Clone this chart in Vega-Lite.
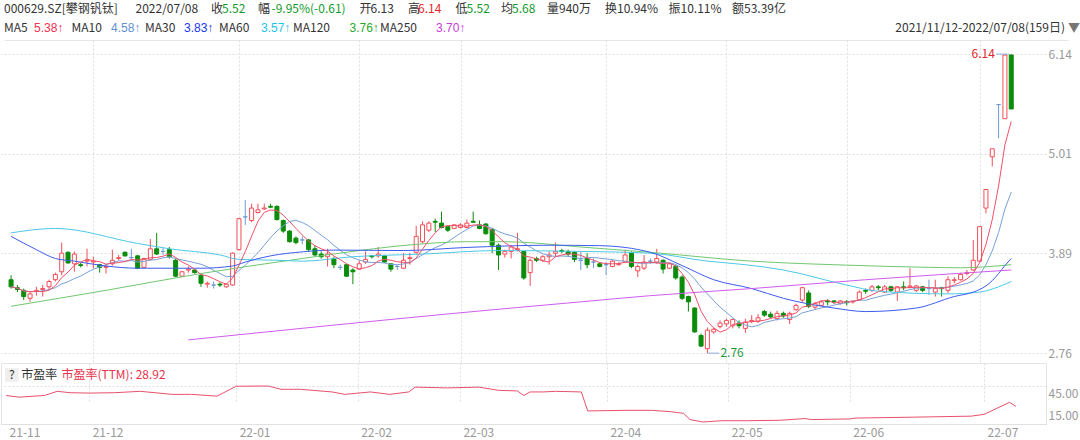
{
  "$schema": "https://vega.github.io/schema/vega-lite/v6.json",
  "background": "white",
  "padding": 0,
  "autosize": {"type": "pad"},
  "spacing": 0,
  "config": {
    "view": {"stroke": null},
    "font": "Noto Sans CJK SC",
    "axis": {"labelFont": "Noto Sans CJK SC", "labelColor": "#999999", "labelFontSize": 12, "ticks": false, "domain": false, "gridColor": "#dedede", "gridDash": [2, 2], "gridWidth": 1},
    "text": {"font": "Noto Sans CJK SC", "fontSize": 12}
  },
  "resolve": {"scale": {"x": "independent", "y": "independent", "color": "independent", "fill": "independent", "stroke": "independent"}},
  "datasets": {
    "hdr": [
      {"k": 0, "ln": "L1", "t": "000629.SZ[攀钢钒钛]", "tone": "lab"},
      {"k": 1, "ln": "L1", "t": "2022/07/08", "tone": "lab"},
      {"k": 2, "ln": "L1", "t": "收", "tone": "lab"},
      {"k": 3, "ln": "L1", "t": "5.52", "tone": "dn"},
      {"k": 4, "ln": "L1", "t": "幅", "tone": "lab"},
      {"k": 5, "ln": "L1", "t": "-9.95%(-0.61)", "tone": "dn"},
      {"k": 6, "ln": "L1", "t": "开", "tone": "lab"},
      {"k": 7, "ln": "L1", "t": "6.13", "tone": "lab"},
      {"k": 8, "ln": "L1", "t": "高", "tone": "lab"},
      {"k": 9, "ln": "L1", "t": "6.14", "tone": "up"},
      {"k": 10, "ln": "L1", "t": "低", "tone": "lab"},
      {"k": 11, "ln": "L1", "t": "5.52", "tone": "dn"},
      {"k": 12, "ln": "L1", "t": "均", "tone": "lab"},
      {"k": 13, "ln": "L1", "t": "5.68", "tone": "dn"},
      {"k": 14, "ln": "L1", "t": "量940万", "tone": "lab"},
      {"k": 15, "ln": "L1", "t": "换10.94%", "tone": "lab"},
      {"k": 16, "ln": "L1", "t": "振10.11%", "tone": "lab"},
      {"k": 17, "ln": "L1", "t": "额53.39亿", "tone": "lab"},
      {"k": 18, "ln": "L2", "t": "MA5", "tone": "lab"},
      {"k": 19, "ln": "L2", "t": "5.38↑", "tone": "ma5"},
      {"k": 20, "ln": "L2", "t": "MA10", "tone": "lab"},
      {"k": 21, "ln": "L2", "t": "4.58↑", "tone": "ma10"},
      {"k": 22, "ln": "L2", "t": "MA30", "tone": "lab"},
      {"k": 23, "ln": "L2", "t": "3.83↑", "tone": "ma30"},
      {"k": 24, "ln": "L2", "t": "MA60", "tone": "lab"},
      {"k": 25, "ln": "L2", "t": "3.57↑", "tone": "ma60"},
      {"k": 26, "ln": "L2", "t": "MA120", "tone": "lab"},
      {"k": 27, "ln": "L2", "t": "3.76↑", "tone": "ma120"},
      {"k": 28, "ln": "L2", "t": "MA250", "tone": "lab"},
      {"k": 29, "ln": "L2", "t": "3.70↑", "tone": "ma250"},
      {"k": 30, "ln": "L2", "t": "2021/11/12-2022/07/08(159日)", "tone": "lab"},
      {"k": 31, "ln": "L2", "t": "▼", "tone": "tri"}
    ],
    "k": [
      {"i":0,"o":3.59,"h":3.64,"l":3.49,"c":3.51,"d":"down"},
      {"i":1,"o":3.50,"h":3.53,"l":3.45,"c":3.48,"d":"down"},
      {"i":2,"o":3.47,"h":3.49,"l":3.36,"c":3.40,"d":"down"},
      {"i":3,"o":3.38,"h":3.45,"l":3.34,"c":3.43,"d":"up"},
      {"i":4,"o":3.46,"h":3.51,"l":3.41,"c":3.47,"d":"up"},
      {"i":5,"o":3.48,"h":3.53,"l":3.40,"c":3.49,"d":"up"},
      {"i":6,"o":3.51,"h":3.59,"l":3.47,"c":3.57,"d":"up"},
      {"i":7,"o":3.59,"h":3.67,"l":3.57,"c":3.65,"d":"up"},
      {"i":8,"o":3.68,"h":4.01,"l":3.64,"c":3.89,"d":"up"},
      {"i":9,"o":3.90,"h":3.91,"l":3.77,"c":3.78,"d":"down"},
      {"i":10,"o":3.77,"h":3.91,"l":3.68,"c":3.88,"d":"up"},
      {"i":11,"o":3.76,"h":3.78,"l":3.73,"c":3.75,"d":"down"},
      {"i":12,"o":3.80,"h":3.94,"l":3.74,"c":3.81,"d":"up"},
      {"i":13,"o":3.79,"h":3.85,"l":3.72,"c":3.80,"d":"up"},
      {"i":14,"o":3.76,"h":3.77,"l":3.67,"c":3.73,"d":"down"},
      {"i":15,"o":3.73,"h":3.76,"l":3.66,"c":3.74,"d":"up"},
      {"i":16,"o":3.77,"h":3.93,"l":3.75,"c":3.81,"d":"up"},
      {"i":17,"o":3.83,"h":3.87,"l":3.81,"c":3.84,"d":"up"},
      {"i":18,"o":3.90,"h":3.91,"l":3.85,"c":3.86,"d":"down"},
      {"i":19,"o":3.84,"h":3.94,"l":3.81,"c":3.84,"d":"flat"},
      {"i":20,"o":3.86,"h":3.87,"l":3.71,"c":3.72,"d":"down"},
      {"i":21,"o":3.73,"h":3.84,"l":3.72,"c":3.83,"d":"up"},
      {"i":22,"o":3.82,"h":4.05,"l":3.81,"c":3.94,"d":"up"},
      {"i":23,"o":3.94,"h":4.12,"l":3.87,"c":3.88,"d":"down"},
      {"i":24,"o":3.91,"h":3.96,"l":3.87,"c":3.91,"d":"flat"},
      {"i":25,"o":3.93,"h":3.96,"l":3.83,"c":3.85,"d":"down"},
      {"i":26,"o":3.81,"h":3.83,"l":3.62,"c":3.63,"d":"down"},
      {"i":27,"o":3.63,"h":3.69,"l":3.62,"c":3.68,"d":"up"},
      {"i":28,"o":3.70,"h":3.74,"l":3.67,"c":3.71,"d":"up"},
      {"i":29,"o":3.70,"h":3.71,"l":3.66,"c":3.67,"d":"down"},
      {"i":30,"o":3.64,"h":3.65,"l":3.51,"c":3.55,"d":"down"},
      {"i":31,"o":3.54,"h":3.57,"l":3.50,"c":3.55,"d":"up"},
      {"i":32,"o":3.53,"h":3.57,"l":3.49,"c":3.53,"d":"flat"},
      {"i":33,"o":3.54,"h":3.56,"l":3.51,"c":3.53,"d":"down"},
      {"i":34,"o":3.51,"h":3.55,"l":3.50,"c":3.54,"d":"up"},
      {"i":35,"o":3.53,"h":3.90,"l":3.52,"c":3.89,"d":"up"},
      {"i":36,"o":3.93,"h":4.29,"l":3.92,"c":4.28,"d":"up"},
      {"i":37,"o":4.30,"h":4.49,"l":4.21,"c":4.30,"d":"flat"},
      {"i":38,"o":4.26,"h":4.45,"l":4.24,"c":4.40,"d":"up"},
      {"i":39,"o":4.35,"h":4.45,"l":4.34,"c":4.38,"d":"up"},
      {"i":40,"o":4.39,"h":4.45,"l":4.38,"c":4.40,"d":"up"},
      {"i":41,"o":4.42,"h":4.45,"l":4.40,"c":4.41,"d":"down"},
      {"i":42,"o":4.42,"h":4.43,"l":4.26,"c":4.27,"d":"down"},
      {"i":43,"o":4.26,"h":4.27,"l":4.12,"c":4.14,"d":"down"},
      {"i":44,"o":4.14,"h":4.15,"l":4.01,"c":4.02,"d":"down"},
      {"i":45,"o":4.06,"h":4.08,"l":3.99,"c":4.01,"d":"down"},
      {"i":46,"o":4.04,"h":4.08,"l":3.99,"c":4.04,"d":"flat"},
      {"i":47,"o":4.04,"h":4.05,"l":3.91,"c":3.93,"d":"down"},
      {"i":48,"o":3.94,"h":3.98,"l":3.86,"c":3.87,"d":"down"},
      {"i":49,"o":3.88,"h":3.91,"l":3.83,"c":3.85,"d":"down"},
      {"i":50,"o":3.85,"h":3.94,"l":3.74,"c":3.88,"d":"up"},
      {"i":51,"o":3.83,"h":3.85,"l":3.72,"c":3.76,"d":"down"},
      {"i":52,"o":3.73,"h":3.76,"l":3.70,"c":3.73,"d":"flat"},
      {"i":53,"o":3.76,"h":3.77,"l":3.62,"c":3.63,"d":"down"},
      {"i":54,"o":3.70,"h":3.72,"l":3.54,"c":3.68,"d":"down"},
      {"i":55,"o":3.71,"h":3.81,"l":3.70,"c":3.77,"d":"up"},
      {"i":56,"o":3.79,"h":3.91,"l":3.77,"c":3.82,"d":"up"},
      {"i":57,"o":3.86,"h":3.87,"l":3.83,"c":3.85,"d":"down"},
      {"i":58,"o":3.86,"h":3.96,"l":3.84,"c":3.88,"d":"up"},
      {"i":59,"o":3.86,"h":3.87,"l":3.78,"c":3.79,"d":"down"},
      {"i":60,"o":3.77,"h":3.77,"l":3.68,"c":3.71,"d":"down"},
      {"i":61,"o":3.74,"h":3.76,"l":3.70,"c":3.74,"d":"flat"},
      {"i":62,"o":3.72,"h":3.89,"l":3.71,"c":3.81,"d":"up"},
      {"i":63,"o":3.83,"h":3.89,"l":3.76,"c":3.84,"d":"up"},
      {"i":64,"o":3.90,"h":4.20,"l":3.88,"c":4.08,"d":"up"},
      {"i":65,"o":4.02,"h":4.25,"l":4.00,"c":4.21,"d":"up"},
      {"i":66,"o":4.15,"h":4.25,"l":4.13,"c":4.23,"d":"up"},
      {"i":67,"o":4.25,"h":4.28,"l":4.13,"c":4.24,"d":"down"},
      {"i":68,"o":4.23,"h":4.36,"l":4.17,"c":4.18,"d":"down"},
      {"i":69,"o":4.19,"h":4.20,"l":4.13,"c":4.15,"d":"down"},
      {"i":70,"o":4.17,"h":4.22,"l":4.16,"c":4.21,"d":"up"},
      {"i":71,"o":4.18,"h":4.23,"l":4.17,"c":4.21,"d":"up"},
      {"i":72,"o":4.18,"h":4.27,"l":4.17,"c":4.23,"d":"up"},
      {"i":73,"o":4.25,"h":4.36,"l":4.23,"c":4.24,"d":"down"},
      {"i":74,"o":4.21,"h":4.26,"l":4.16,"c":4.17,"d":"down"},
      {"i":75,"o":4.22,"h":4.23,"l":4.10,"c":4.11,"d":"down"},
      {"i":76,"o":4.16,"h":4.17,"l":3.89,"c":3.98,"d":"down"},
      {"i":77,"o":3.98,"h":4.00,"l":3.70,"c":3.87,"d":"down"},
      {"i":78,"o":3.88,"h":3.93,"l":3.84,"c":3.91,"d":"up"},
      {"i":79,"o":3.91,"h":3.98,"l":3.83,"c":3.96,"d":"up"},
      {"i":80,"o":3.93,"h":4.12,"l":3.91,"c":3.94,"d":"up"},
      {"i":81,"o":3.91,"h":3.91,"l":3.59,"c":3.61,"d":"down"},
      {"i":82,"o":3.67,"h":3.83,"l":3.52,"c":3.81,"d":"up"},
      {"i":83,"o":3.83,"h":3.85,"l":3.79,"c":3.81,"d":"down"},
      {"i":84,"o":3.81,"h":3.87,"l":3.79,"c":3.85,"d":"up"},
      {"i":85,"o":3.85,"h":3.91,"l":3.76,"c":3.87,"d":"up"},
      {"i":86,"o":3.89,"h":4.01,"l":3.85,"c":3.91,"d":"up"},
      {"i":87,"o":3.92,"h":3.94,"l":3.89,"c":3.91,"d":"down"},
      {"i":88,"o":3.91,"h":3.93,"l":3.85,"c":3.88,"d":"down"},
      {"i":89,"o":3.90,"h":3.91,"l":3.79,"c":3.82,"d":"down"},
      {"i":90,"o":3.81,"h":3.91,"l":3.70,"c":3.81,"d":"flat"},
      {"i":91,"o":3.83,"h":3.89,"l":3.72,"c":3.76,"d":"down"},
      {"i":92,"o":3.79,"h":3.83,"l":3.72,"c":3.79,"d":"flat"},
      {"i":93,"o":3.77,"h":3.79,"l":3.73,"c":3.74,"d":"down"},
      {"i":94,"o":3.76,"h":3.79,"l":3.64,"c":3.76,"d":"flat"},
      {"i":95,"o":3.74,"h":3.81,"l":3.73,"c":3.80,"d":"up"},
      {"i":96,"o":3.76,"h":3.79,"l":3.75,"c":3.77,"d":"up"},
      {"i":97,"o":3.79,"h":3.93,"l":3.78,"c":3.87,"d":"up"},
      {"i":98,"o":3.89,"h":3.91,"l":3.72,"c":3.74,"d":"down"},
      {"i":99,"o":3.69,"h":3.76,"l":3.62,"c":3.74,"d":"up"},
      {"i":100,"o":3.72,"h":3.87,"l":3.70,"c":3.79,"d":"up"},
      {"i":101,"o":3.80,"h":3.83,"l":3.77,"c":3.80,"d":"flat"},
      {"i":102,"o":3.79,"h":3.94,"l":3.77,"c":3.83,"d":"up"},
      {"i":103,"o":3.81,"h":3.82,"l":3.66,"c":3.71,"d":"down"},
      {"i":104,"o":3.72,"h":3.78,"l":3.71,"c":3.77,"d":"up"},
      {"i":105,"o":3.74,"h":3.76,"l":3.59,"c":3.61,"d":"down"},
      {"i":106,"o":3.62,"h":3.64,"l":3.36,"c":3.38,"d":"down"},
      {"i":107,"o":3.40,"h":3.41,"l":3.23,"c":3.34,"d":"down"},
      {"i":108,"o":3.27,"h":3.28,"l":2.99,"c":3.00,"d":"down"},
      {"i":109,"o":2.96,"h":2.98,"l":2.83,"c":2.84,"d":"down"},
      {"i":110,"o":2.81,"h":3.05,"l":2.76,"c":3.02,"d":"up"},
      {"i":111,"o":3.00,"h":3.05,"l":2.98,"c":3.03,"d":"up"},
      {"i":112,"o":3.06,"h":3.13,"l":3.04,"c":3.10,"d":"up"},
      {"i":113,"o":3.09,"h":3.15,"l":3.06,"c":3.13,"d":"up"},
      {"i":114,"o":3.07,"h":3.15,"l":3.04,"c":3.14,"d":"up"},
      {"i":115,"o":3.10,"h":3.13,"l":3.04,"c":3.07,"d":"down"},
      {"i":116,"o":3.04,"h":3.15,"l":2.99,"c":3.11,"d":"up"},
      {"i":117,"o":3.12,"h":3.19,"l":3.10,"c":3.13,"d":"up"},
      {"i":118,"o":3.12,"h":3.20,"l":3.10,"c":3.16,"d":"up"},
      {"i":119,"o":3.23,"h":3.25,"l":3.17,"c":3.19,"d":"down"},
      {"i":120,"o":3.20,"h":3.23,"l":3.15,"c":3.17,"d":"down"},
      {"i":121,"o":3.15,"h":3.24,"l":3.13,"c":3.21,"d":"up"},
      {"i":122,"o":3.21,"h":3.23,"l":3.16,"c":3.18,"d":"down"},
      {"i":123,"o":3.14,"h":3.23,"l":3.09,"c":3.21,"d":"up"},
      {"i":124,"o":3.25,"h":3.32,"l":3.24,"c":3.30,"d":"up"},
      {"i":125,"o":3.36,"h":3.51,"l":3.34,"c":3.50,"d":"up"},
      {"i":126,"o":3.44,"h":3.47,"l":3.27,"c":3.29,"d":"down"},
      {"i":127,"o":3.28,"h":3.34,"l":3.25,"c":3.32,"d":"up"},
      {"i":128,"o":3.30,"h":3.36,"l":3.29,"c":3.34,"d":"up"},
      {"i":129,"o":3.35,"h":3.37,"l":3.30,"c":3.34,"d":"down"},
      {"i":130,"o":3.35,"h":3.36,"l":3.32,"c":3.34,"d":"down"},
      {"i":131,"o":3.32,"h":3.36,"l":3.31,"c":3.35,"d":"up"},
      {"i":132,"o":3.34,"h":3.36,"l":3.30,"c":3.33,"d":"down"},
      {"i":133,"o":3.34,"h":3.35,"l":3.32,"c":3.35,"d":"up"},
      {"i":134,"o":3.36,"h":3.47,"l":3.35,"c":3.45,"d":"up"},
      {"i":135,"o":3.47,"h":3.49,"l":3.43,"c":3.46,"d":"down"},
      {"i":136,"o":3.47,"h":3.53,"l":3.45,"c":3.51,"d":"up"},
      {"i":137,"o":3.51,"h":3.53,"l":3.47,"c":3.50,"d":"down"},
      {"i":138,"o":3.45,"h":3.53,"l":3.44,"c":3.51,"d":"up"},
      {"i":139,"o":3.51,"h":3.52,"l":3.45,"c":3.47,"d":"down"},
      {"i":140,"o":3.45,"h":3.52,"l":3.35,"c":3.51,"d":"up"},
      {"i":141,"o":3.51,"h":3.57,"l":3.47,"c":3.50,"d":"down"},
      {"i":142,"o":3.51,"h":3.72,"l":3.49,"c":3.52,"d":"up"},
      {"i":143,"o":3.47,"h":3.53,"l":3.45,"c":3.52,"d":"up"},
      {"i":144,"o":3.51,"h":3.52,"l":3.45,"c":3.47,"d":"down"},
      {"i":145,"o":3.49,"h":3.59,"l":3.42,"c":3.49,"d":"flat"},
      {"i":146,"o":3.45,"h":3.59,"l":3.40,"c":3.49,"d":"up"},
      {"i":147,"o":3.50,"h":3.51,"l":3.40,"c":3.49,"d":"down"},
      {"i":148,"o":3.47,"h":3.63,"l":3.44,"c":3.59,"d":"up"},
      {"i":149,"o":3.58,"h":3.62,"l":3.55,"c":3.59,"d":"up"},
      {"i":150,"o":3.59,"h":3.67,"l":3.58,"c":3.65,"d":"up"},
      {"i":151,"o":3.66,"h":3.70,"l":3.64,"c":3.67,"d":"up"},
      {"i":152,"o":3.70,"h":4.04,"l":3.69,"c":3.81,"d":"up"},
      {"i":153,"o":3.80,"h":4.19,"l":3.79,"c":4.19,"d":"up"},
      {"i":154,"o":4.40,"h":4.61,"l":4.34,"c":4.61,"d":"up"},
      {"i":155,"o":4.98,"h":5.07,"l":4.87,"c":5.07,"d":"up"},
      {"i":156,"o":5.57,"h":5.57,"l":5.19,"c":5.57,"d":"flat"},
      {"i":157,"o":5.41,"h":6.14,"l":5.41,"c":6.13,"d":"up"},
      {"i":158,"o":6.13,"h":6.14,"l":5.52,"c":5.52,"d":"down"}
    ],
    "ma30": [
      {"i":0,"v":4.08},{"i":4,"v":3.93},{"i":7,"v":3.83},{"i":10,"v":3.80},{"i":15,"v":3.745},{"i":20,"v":3.72},{"i":30,"v":3.72},{"i":35,"v":3.745},{"i":37,"v":3.79},{"i":41,"v":3.86},{"i":46,"v":3.905},{"i":51,"v":3.925},{"i":62,"v":3.92},{"i":72,"v":3.955},{"i":85,"v":3.98},{"i":93,"v":3.975},{"i":101,"v":3.90},{"i":106,"v":3.75},{"i":111,"v":3.59},{"i":117,"v":3.49},{"i":122,"v":3.38},{"i":130,"v":3.27},{"i":135,"v":3.23},{"i":143,"v":3.27},{"i":149,"v":3.40},{"i":152,"v":3.45},{"i":153,"v":3.48},{"i":154,"v":3.52},{"i":155,"v":3.58},{"i":156,"v":3.66},{"i":157,"v":3.75},{"i":158,"v":3.83}
    ],
    "ma60": [
      {"i":0,"v":4.12},{"i":7,"v":4.17},{"i":20,"v":4.00},{"i":25,"v":3.94},{"i":33,"v":3.87},{"i":36,"v":3.82},{"i":42,"v":3.81},{"i":46,"v":3.80},{"i":54,"v":3.85},{"i":65,"v":3.88},{"i":77,"v":3.92},{"i":90,"v":3.91},{"i":101,"v":3.89},{"i":110,"v":3.80},{"i":116,"v":3.76},{"i":122,"v":3.70},{"i":132,"v":3.53},{"i":137,"v":3.46},{"i":148,"v":3.43},{"i":153,"v":3.45},{"i":156,"v":3.51},{"i":158,"v":3.57}
    ],
    "ma120": [
      {"i":0,"v":3.29},{"i":15,"v":3.47},{"i":30,"v":3.66},{"i":46,"v":3.83},{"i":55,"v":3.92},{"i":64,"v":3.99},{"i":72,"v":4.02},{"i":78,"v":4.02},{"i":90,"v":3.96},{"i":101,"v":3.90},{"i":117,"v":3.80},{"i":132,"v":3.755},{"i":145,"v":3.73},{"i":150,"v":3.725},{"i":158,"v":3.76}
    ],
    "ma250": [
      {"i":28,"v":2.91},{"i":50,"v":3.07},{"i":70,"v":3.21},{"i":90,"v":3.34},{"i":101,"v":3.41},{"i":117,"v":3.49},{"i":135,"v":3.59},{"i":158,"v":3.70}
    ],
    "pe": [
      {"i":0,"pe":37.5},{"i":2,"pe":36.2},{"i":6,"pe":37.5},{"i":8,"pe":40.8},{"i":10,"pe":39.7},{"i":13,"pe":39.4},{"i":17,"pe":39.7},{"i":21,"pe":40.8},{"i":26,"pe":38.4},{"i":29,"pe":38.4},{"i":33,"pe":37.0},{"i":36,"pe":44.8},{"i":41,"pe":45.0},{"i":43,"pe":42.4},{"i":46,"pe":42.4},{"i":51,"pe":40.3},{"i":53,"pe":38.4},{"i":57,"pe":40.3},{"i":60,"pe":38.4},{"i":63,"pe":40.3},{"i":64,"pe":44.1},{"i":69,"pe":43.5},{"i":74,"pe":44.1},{"i":77,"pe":41.6},{"i":80,"pe":41.1},{"i":81,"pe":37.5},{"i":82,"pe":40.3},{"i":84,"pe":40.3},{"i":86,"pe":40.8},{"i":90,"pe":40.3},{"i":91,"pe":25.3},{"i":97,"pe":25.8},{"i":101,"pe":25.8},{"i":104,"pe":24.7},{"i":106,"pe":23.4},{"i":107,"pe":18.5},{"i":109,"pe":16.6},{"i":112,"pe":17.6},{"i":116,"pe":17.6},{"i":121,"pe":17.9},{"i":125,"pe":19.3},{"i":126,"pe":18.5},{"i":132,"pe":19.0},{"i":133,"pe":19.7},{"i":142,"pe":20.4},{"i":151,"pe":21.2},{"i":153,"pe":22.6},{"i":157,"pe":32.1},{"i":158,"pe":28.92}
    ]
  },
  "vconcat": [
    {
      "width": 1080,
      "height": 40,
      "data": {"name": "hdr"},
      "encoding": {
        "x": {"field": "k", "type": "quantitative", "title": null,
          "scale": {"domain": [0,1,2,3,4,5,6,7,8,9,10,11,12,13,14,15,16,17,18,19,20,21,22,23,24,25,26,27,28,29,30,31],
                    "range": [3,134.5,210,221,257,270.5,358.5,369.5,407,417,454.5,465.5,500,511,546,604,667.5,731,3,33,70.5,110,144,183,218,260,292,348.5,379,435,1064,1067],
                    "zero": false, "nice": false},
          "axis": {"domain": true, "domainColor": "#e6e6e6", "labels": false, "grid": false, "ticks": false}},
        "y": {"field": "ln", "type": "ordinal", "scale": {"type": "point", "domain": ["L1", "L2"], "range": [9, 28], "padding": 0}, "axis": null},
        "text": {"field": "t"},
        "color": {"field": "tone", "type": "nominal", "legend": null,
          "scale": {"domain": ["lab","up","dn","ma5","ma10","ma30","ma60","ma120","ma250","tri"],
                    "range": ["#333333","#e8262e","#149a2c","#f0304f","#5f8fcf","#1a35f5","#1ec3e6","#2aa82a","#c83cd8","#777777"]}}
      },
      "layer": [
        {"transform": [{"filter": "datum.k != 30 && indexof([19,21,23,25,27,29], datum.k) < 0"}], "mark": {"type": "text", "align": "left", "baseline": "middle", "fontSize": 12}},
        {"transform": [{"filter": "indexof([19,21,23,25,27,29], datum.k) >= 0"}], "mark": {"type": "text", "align": "left", "baseline": "middle", "fontSize": 12, "font": "Liberation Sans"}},
        {"transform": [{"filter": "datum.k == 30"}], "mark": {"type": "text", "align": "right", "baseline": "middle", "fontSize": 12}}
      ]
    },
    {
      "width": 1045,
      "height": 322,
      "data": {"name": "k"},
      "layer": [
        {
          "mark": {"type": "rule", "strokeWidth": 1},
          "encoding": {
            "x": {"field": "i", "type": "quantitative", "title": null,
              "scale": {"domain": [-0.8, 162.7], "zero": false, "nice": false},
              "axis": {"values": [13,36,55,71,94,113,132,153], "labels": false, "grid": true, "domain": false}},
            "y": {"field": "l", "type": "quantitative", "title": null,
              "scale": {"domain": [2.66, 6.30], "zero": false, "nice": false},
              "axis": {"orient": "right", "values": [2.76, 3.8867, 5.0133, 6.14], "format": ".2f", "grid": true, "labelPadding": 2, "labelBaseline": "middle"}},
            "y2": {"field": "h"},
            "color": {"field": "d", "type": "nominal", "legend": null,
              "scale": {"domain": ["up","down","flat"], "range": ["#f24e57","#0a8c0a","#6c9bd2"]}}
          }
        },
        {
          "mark": {"type": "bar", "width": 4, "strokeWidth": 1},
          "encoding": {
            "x": {"field": "i", "type": "quantitative", "title": null},
            "y": {"field": "o", "type": "quantitative", "title": null},
            "y2": {"field": "c"},
            "fill": {"field": "d", "type": "nominal", "legend": null,
              "scale": {"domain": ["up","down","flat"], "range": ["#ffffff","#0a8c0a","#ffffff"]}},
            "stroke": {"field": "d", "type": "nominal", "legend": null,
              "scale": {"domain": ["up","down","flat"], "range": ["#f24e57","#0a8c0a","#6c9bd2"]}}
          }
        },
        {
          "transform": [{"window": [{"op": "mean", "field": "c", "as": "m10"}], "frame": [-9, 0], "sort": [{"field": "i"}]}],
          "mark": {"type": "line", "color": "#76a1d8", "strokeWidth": 1},
          "encoding": {"x": {"field": "i", "type": "quantitative", "title": null}, "y": {"field": "m10", "type": "quantitative", "title": null}}
        },
        {
          "data": {"name": "ma120"},
          "mark": {"type": "line", "color": "#70c870", "strokeWidth": 1, "interpolate": "monotone"},
          "encoding": {"x": {"field": "i", "type": "quantitative", "title": null}, "y": {"field": "v", "type": "quantitative", "title": null}}
        },
        {
          "data": {"name": "ma60"},
          "mark": {"type": "line", "color": "#4cc9e6", "strokeWidth": 1, "interpolate": "monotone"},
          "encoding": {"x": {"field": "i", "type": "quantitative", "title": null}, "y": {"field": "v", "type": "quantitative", "title": null}}
        },
        {
          "data": {"name": "ma30"},
          "mark": {"type": "line", "color": "#3d5cf0", "strokeWidth": 1, "interpolate": "monotone"},
          "encoding": {"x": {"field": "i", "type": "quantitative", "title": null}, "y": {"field": "v", "type": "quantitative", "title": null}}
        },
        {
          "data": {"name": "ma250"},
          "mark": {"type": "line", "color": "#cf5cef", "strokeWidth": 1, "interpolate": "monotone"},
          "encoding": {"x": {"field": "i", "type": "quantitative", "title": null}, "y": {"field": "v", "type": "quantitative", "title": null}}
        },
        {
          "transform": [{"window": [{"op": "mean", "field": "c", "as": "m5"}], "frame": [-4, 0], "sort": [{"field": "i"}]}],
          "mark": {"type": "line", "color": "#f0506a", "strokeWidth": 1},
          "encoding": {"x": {"field": "i", "type": "quantitative", "title": null}, "y": {"field": "m5", "type": "quantitative", "title": null}}
        },
        {
          "data": {"values": [{"i": 157, "p": 6.14, "t": "6.14"}]},
          "mark": {"type": "rule", "xOffset": -9, "x2Offset": 4, "color": "#8eaed6", "strokeWidth": 1},
          "encoding": {"x": {"field": "i", "type": "quantitative", "title": null}, "x2": {"field": "i"}, "y": {"field": "p", "type": "quantitative", "title": null}}
        },
        {
          "data": {"values": [{"i": 157, "p": 6.14, "t": "6.14"}]},
          "mark": {"type": "text", "align": "right", "baseline": "middle", "dx": -10, "color": "#e0282e", "fontSize": 12},
          "encoding": {"x": {"field": "i", "type": "quantitative", "title": null}, "y": {"field": "p", "type": "quantitative", "title": null}, "text": {"field": "t"}}
        },
        {
          "data": {"values": [{"i": 110, "p": 2.76, "t": "2.76"}]},
          "mark": {"type": "rule", "x2Offset": 12, "color": "#8eaed6", "strokeWidth": 1},
          "encoding": {"x": {"field": "i", "type": "quantitative", "title": null}, "x2": {"field": "i"}, "y": {"field": "p", "type": "quantitative", "title": null}}
        },
        {
          "data": {"values": [{"i": 110, "p": 2.76, "t": "2.76"}]},
          "mark": {"type": "text", "align": "left", "baseline": "middle", "dx": 13, "color": "#1f9a3a", "fontSize": 12},
          "encoding": {"x": {"field": "i", "type": "quantitative", "title": null}, "y": {"field": "p", "type": "quantitative", "title": null}, "text": {"field": "t"}}
        }
      ]
    },
    {
      "width": 1045,
      "height": 61,
      "view": {"stroke": "#e3e3e3"},
      "layer": [
        {
          "data": {"name": "pe"},
          "mark": {"type": "line", "color": "#e8506e", "strokeWidth": 1},
          "encoding": {
            "x": {"field": "i", "type": "quantitative", "title": null,
              "scale": {"domain": [-0.8, 162.7], "zero": false, "nice": false},
              "axis": {"values": [0,13,36,55,71,94,113,132,153],
                "labelExpr": "['21-11','21-12','22-01','22-02','22-03','22-04','22-05','22-06','22-07'][indexof([0,13,36,55,71,94,113,132,153], datum.value)]",
                "labelAlign": "left", "labelOffset": 3, "labelPadding": 3, "grid": true, "domain": false,
                "gridOpacity": {"condition": {"test": "datum.value == 0", "value": 0}, "value": 1}}},
            "y": {"field": "pe", "type": "quantitative", "title": null,
              "scale": {"domain": [15, 45], "range": [61, 23], "zero": false, "nice": false},
              "axis": {"orient": "right", "values": [15, 45], "format": ".2f", "grid": true, "labelPadding": 2, "labelBaseline": "middle",
                "labelOffset": {"condition": {"test": "datum.value == 45", "value": 7}, "value": -9}}}
          }
        },
        {
          "data": {"values": [{"t": "?"}]},
          "mark": {"type": "point", "shape": "square", "size": 180, "filled": true, "color": "#eeeeee", "opacity": 1},
          "encoding": {"x": {"datum": 0.9, "type": "quantitative"}, "y": {"datum": 53.7, "type": "quantitative"}}
        },
        {
          "data": {"values": [{"t": "?"}]},
          "mark": {"type": "text", "align": "center", "baseline": "middle", "color": "#333333", "fontSize": 12},
          "encoding": {"x": {"datum": 0.9, "type": "quantitative"}, "y": {"datum": 53.7, "type": "quantitative"}, "text": {"field": "t"}}
        },
        {
          "data": {"values": [{"t": "市盈率"}]},
          "mark": {"type": "text", "align": "left", "baseline": "middle", "color": "#333333", "fontSize": 12},
          "encoding": {"x": {"datum": 2.35, "type": "quantitative"}, "y": {"datum": 53.7, "type": "quantitative"}, "text": {"field": "t"}}
        },
        {
          "data": {"values": [{"t": "市盈率(TTM): 28.92"}]},
          "mark": {"type": "text", "align": "left", "baseline": "middle", "color": "#e8334a", "fontSize": 12},
          "encoding": {"x": {"datum": 8.65, "type": "quantitative"}, "y": {"datum": 53.7, "type": "quantitative"}, "text": {"field": "t"}}
        }
      ]
    }
  ]
}
